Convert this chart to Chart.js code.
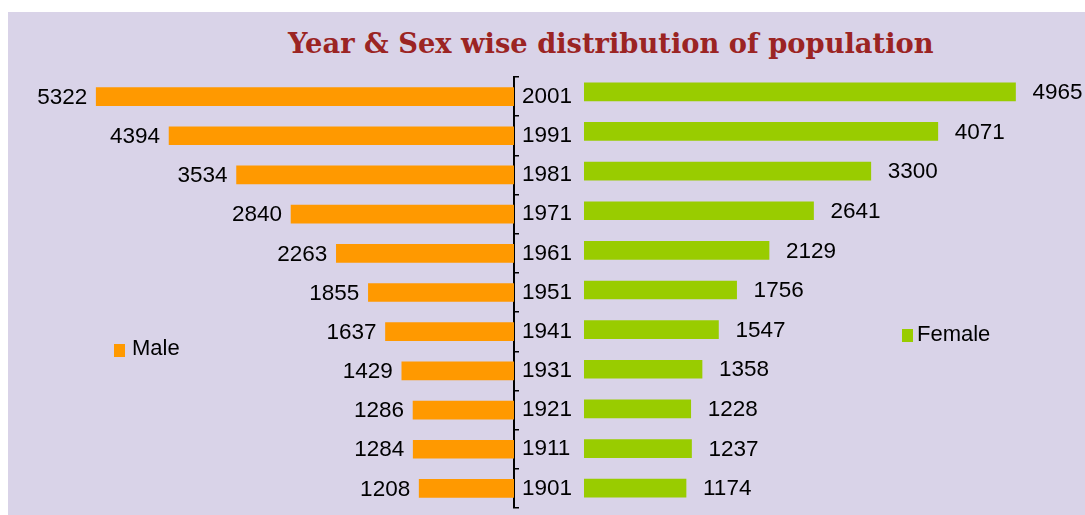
<!DOCTYPE html>
<html><head><meta charset="utf-8">
<script src="https://cdn.jsdelivr.net/npm/chart.js"></script>
<style>
html,body{margin:0;padding:0;background:#fff;width:1085px;height:515px;overflow:hidden;}
#bg{position:absolute;left:8px;top:12px;width:1077px;height:503px;background:#d9d3e8;}
#title{position:absolute;left:288px;top:30px;font:bold 27.3px/27px "DejaVu Serif";color:#9b2423;white-space:nowrap;}
#cm{position:absolute;left:0;top:0;}
#cf{position:absolute;left:584px;top:0;}
.leg{position:absolute;font:22px/22px "Liberation Sans";color:#000;white-space:nowrap;}
.sw{position:absolute;width:11px;height:13px;}
</style></head>
<body>
<div id="bg"></div>
<div id="title">Year &amp; Sex wise distribution of population</div>
<canvas id="cm" width="584" height="515"></canvas>
<canvas id="cf" width="501" height="515"></canvas>
<div class="sw" id="swm" style="left:114px;top:344px;"></div>
<div class="leg" id="lm" style="left:132px;top:337px;"></div>
<div class="sw" id="swf" style="left:902px;top:329px;"></div>
<div class="leg" id="lf" style="left:917px;top:323px;"></div>
<script>
const years = ['2001','1991','1981','1971','1961','1951','1941','1931','1921','1911','1901'];
const male = [5322,4394,3534,2840,2263,1855,1637,1429,1286,1284,1208];
const female = [4965,4071,3300,2641,2129,1756,1547,1358,1228,1237,1174];
const seriesNames = ['Male','Female'];
const colors = ['#ff9900','#99cc00'];

document.getElementById('lm').textContent = seriesNames[0];
document.getElementById('lf').textContent = seriesNames[1];
document.getElementById('swm').style.background = colors[0];
document.getElementById('swf').style.background = colors[1];

const valueLabels = {
  id: 'valueLabels',
  afterDatasetsDraw(chart, args, opts) {
    const ctx = chart.ctx;
    const meta = chart.getDatasetMeta(0);
    const data = chart.data.datasets[0].data;
    ctx.save();
    ctx.font = '22.5px "Liberation Sans"';
    ctx.fillStyle = '#000';
    ctx.textBaseline = 'middle';
    meta.data.forEach((bar, i) => {
      if (opts.side === 'left') {
        ctx.textAlign = 'right';
        ctx.fillText(String(data[i]), bar.x - opts.gap, bar.y + 1);
      } else {
        ctx.textAlign = 'left';
        ctx.fillText(String(data[i]), bar.x + opts.gap, bar.y + 1);
      }
    });
    ctx.restore();
  }
};

Chart.defaults.font.family = '"Liberation Sans", Arial, sans-serif';

new Chart(document.getElementById('cm'), {
  type: 'bar',
  data: { labels: years, datasets: [{ label: seriesNames[0], data: male, backgroundColor: colors[0], barThickness: 18 }] },
  options: {
    indexAxis: 'y', responsive: false, animation: false,
    layout: { padding: { left: 43, top: 77, bottom: 7, right: 0 } },
    plugins: { legend: { display: false }, tooltip: { enabled: false }, valueLabels: { side: 'left', gap: 9 } },
    scales: {
      x: { reverse: true, min: 0, max: 6000, display: false },
      y: {
        position: 'right',
        grid: { drawOnChartArea: false, color: '#000', tickLength: 5, lineWidth: 1.5, offset: true },
        border: { color: '#000', width: 2 },
        ticks: { color: '#000', font: { size: 22.5 }, padding: 3 },
        afterFit(s) { s.width = 70; s.paddingTop = 0; s.paddingBottom = 0; }
      }
    }
  },
  plugins: [valueLabels]
});

new Chart(document.getElementById('cf'), {
  type: 'bar',
  data: { labels: years, datasets: [{ label: seriesNames[1], data: female, backgroundColor: colors[1], barThickness: 18 }] },
  options: {
    indexAxis: 'y', responsive: false, animation: false,
    layout: { padding: { left: 0, top: 72, bottom: 7, right: 23 } },
    plugins: { legend: { display: false }, tooltip: { enabled: false }, valueLabels: { side: 'right', gap: 17 } },
    scales: {
      x: { min: 0, max: 5500, display: false },
      y: { display: false }
    }
  },
  plugins: [valueLabels]
});
</script>
</body></html>
